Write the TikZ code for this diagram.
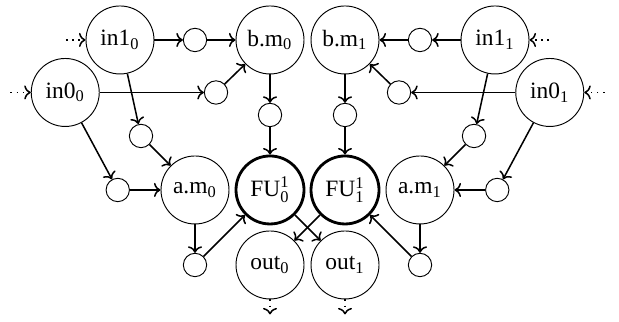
\documentclass[tikz,border=0pt]{standalone}
\usepackage{amsmath}
\usepackage{fontspec}
\setmainfont{Liberation Serif}
\usepackage{tikz}
\usetikzlibrary{arrows.meta}

\begin{document}
\begin{tikzpicture}[x=1.125cm,y=1.125cm,>={To[width=6pt,length=2.8pt]},
  place/.style={draw,circle,minimum size=1.02cm,inner sep=0pt},
  fu/.style={place,very thick},
  hole/.style={draw,circle,minimum size=0.35cm,inner sep=0pt},
  link/.style={->,line width=0.65pt}]
\useasboundingbox (-4.1,-1.76) rectangle (4.153,2.533);

% left half
\node[place] (in10) at (-2.5,2) {in1$_{\text{0}}$};
\node[place] (bm0) at (-0.5,2) {b.m$_{\text{0}}$};
\node[place] (in00) at (-3.23,1.3) {in0$_{\text{0}}$};
\node[place] (am0) at (-1.5,0) {a.m$_{\text{0}}$};
\node[fu] (fu0) at (-0.5,0) {FU$^{\text{1}}_{\text{0}}$};
\node[place] (out0) at (-0.5,-1) {out$_{\text{0}}$};

\node[hole] (h01) at (-1.5,2) {};
\node[hole] (h02) at (-1.22,1.3) {};
\node[hole] (h03) at (-0.5,1) {};
\node[hole] (h04) at (-2.22,0.72) {};
\node[hole] (h05) at (-2.53,0) {};
\node[hole] (h06) at (-1.5,-1) {};

\coordinate (d10) at (-3.22,2);
\coordinate (d00) at (-3.96,1.3);
\coordinate (e0) at (-0.5,-1.66);

% right half
\node[place] (in11) at (2.5,2) {in1$_{\text{1}}$};
\node[place] (bm1) at (0.5,2) {b.m$_{\text{1}}$};
\node[place] (in01) at (3.23,1.3) {in0$_{\text{1}}$};
\node[place] (am1) at (1.5,0) {a.m$_{\text{1}}$};
\node[fu] (fu1) at (0.5,0) {FU$^{\text{1}}_{\text{1}}$};
\node[place] (out1) at (0.5,-1) {out$_{\text{1}}$};

\node[hole] (h11) at (1.5,2) {};
\node[hole] (h12) at (1.22,1.3) {};
\node[hole] (h13) at (0.5,1) {};
\node[hole] (h14) at (2.22,0.72) {};
\node[hole] (h15) at (2.53,0) {};
\node[hole] (h16) at (1.5,-1) {};

\coordinate (d11) at (3.22,2);
\coordinate (d01) at (3.96,1.3);
\coordinate (e1) at (0.5,-1.66);

% connections
\draw[link,dotted] (d10) -- (in10);
\draw[link,dotted] (d00) -- (in00);
\draw[link] (in10) -- (h01);
\draw[link] (h01) -- (bm0);
\draw[link] (in00) -- (h02);
\draw[link] (h02) -- (bm0);
\draw[link] (bm0) -- (h03);
\draw[link] (h03) -- (fu0);
\draw[link] (in10) -- (h04);
\draw[link] (h04) -- (am0);
\draw[link] (in00) -- (h05);
\draw[link] (h05) -- (am0);
\draw[link] (am0) -- (h06);
\draw[link] (h06) -- (fu0);
\draw[link] (fu0) -- (out1);
\draw[link,dotted] (out0) -- (e0);

\draw[link,dotted] (d11) -- (in11);
\draw[link,dotted] (d01) -- (in01);
\draw[link] (in11) -- (h11);
\draw[link] (h11) -- (bm1);
\draw[link] (in01) -- (h12);
\draw[link] (h12) -- (bm1);
\draw[link] (bm1) -- (h13);
\draw[link] (h13) -- (fu1);
\draw[link] (in11) -- (h14);
\draw[link] (h14) -- (am1);
\draw[link] (in01) -- (h15);
\draw[link] (h15) -- (am1);
\draw[link] (am1) -- (h16);
\draw[link] (h16) -- (fu1);
\draw[link] (fu1) -- (out0);
\draw[link,dotted] (out1) -- (e1);
\end{tikzpicture}
\end{document}
